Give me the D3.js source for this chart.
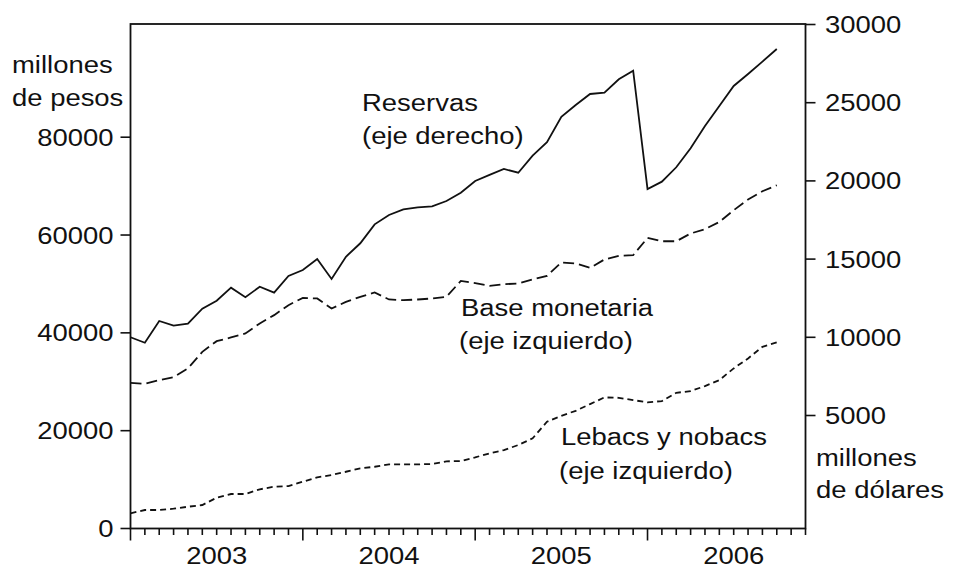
<!DOCTYPE html>
<html>
<head>
	<meta charset="utf-8">
	<title></title>
	<script src="https://d3js.org/d3.v7.min.js"></script>
	<style>
	  body { margin: 0; background: #fff; }
	  text { font-family: "Liberation Sans", Arial, sans-serif; font-size: 24.5px; fill: #111; }
	</style>
</head>
<body>
	<div id="my_dataviz"></div>
	<script>
	// monthly data, Jan 2003 .. Oct 2006
	var months = d3.range(46)   // month index from Jan 2003

	// Reservas (millones de dolares, eje derecho)
	var reservas = [9970, 9620, 11010, 10710, 10840, 11800, 12310, 13140, 12530, 13200, 12820, 13890,
	                14270, 14975, 13700, 15120, 15980, 17190, 17790, 18150, 18280, 18340, 18680, 19210,
	                19960, 20350, 20730, 20490, 21580, 22440, 24070, 24820, 25525, 25610, 26465, 27015,
	                19450, 19920, 20840, 22050, 23480, 24760, 26040, 26800, 27590, 28400]

	// Base monetaria (millones de pesos, eje izquierdo)
	var baseMonetaria = [29680, 29480, 30240, 30850, 32630, 36020, 38200, 38960, 39780, 41820, 43520, 45560,
	                     47050, 46930, 44880, 46230, 47260, 48150, 46720, 46580, 46720, 46930, 47260, 50520,
	                     50050, 49500, 49850, 49990, 50810, 51550, 54280, 54080, 53180, 54900, 55630, 55770,
	                     59310, 58630, 58630, 60210, 61090, 62580, 64970, 67150, 68850, 70070]

	// Lebacs y nobacs (millones de pesos, eje izquierdo)
	var lebacs = [3000, 3680, 3680, 3940, 4350, 4700, 6190, 6950, 6950, 7910, 8440, 8580,
	              9460, 10360, 10830, 11500, 12200, 12520, 13010, 13010, 13010, 13080, 13630, 13690,
	              14440, 15260, 15940, 16960, 18330, 21720, 22940, 23960, 25330, 26700, 26620, 26150,
	              25680, 25950, 27640, 27990, 29010, 30240, 32630, 34670, 37040, 37940]

	var years = ["2003", "2004", "2005", "2006"]
	var leftTicks = [0, 20000, 40000, 60000, 80000]
	var rightTicks = [5000, 10000, 15000, 20000, 25000, 30000]

	var W = 953, H = 569
	var sx = 1.12   // the original lettering is a bit wide

	var svg = d3.select("#my_dataviz")
	  .append("svg")
	    .attr("width", W)
	    .attr("height", H)

	// scales
	var x = d3.scaleLinear().domain([0, 47]).range([130.5, 805.5])
	var yL = d3.scaleLinear().domain([0, 80000]).range([528, 136.7])
	var yR = d3.scaleLinear().domain([5000, 30000]).range([415, 24])

	function addText(px, py, str, anchor) {
	  svg.append("text")
	    .attr("transform", "translate(" + px + "," + py + ") scale(" + sx + ",1)")
	    .attr("text-anchor", anchor || "start")
	    .text(str)
	}

	// left axis
	var gl = svg.append("g")
	  .attr("transform", "translate(130.5,0)")
	  .call(d3.axisLeft(yL).tickValues(leftTicks).tickSize(10).tickFormat(d3.format("d")))
	gl.select(".domain").remove()
	gl.selectAll(".tick line").attr("stroke", "#111").attr("stroke-width", 1.6)
	gl.selectAll(".tick text")
	  .attr("x", null).attr("dy", null)
	  .attr("transform", "translate(-17,8.5) scale(" + sx + ",1)")
	  .attr("text-anchor", "end")
	  .style("font-size", "24.5px")

	// right axis
	var gr = svg.append("g")
	  .attr("transform", "translate(805.5,0)")
	  .call(d3.axisRight(yR).tickValues(rightTicks).tickSize(10).tickFormat(d3.format("d")))
	gr.select(".domain").remove()
	gr.selectAll(".tick line").attr("stroke", "#111").attr("stroke-width", 1.6)
	gr.selectAll(".tick text")
	  .attr("x", null).attr("dy", null)
	  .attr("transform", "translate(19.5,8.5) scale(" + sx + ",1)")
	  .attr("text-anchor", "start")
	  .style("font-size", "24.5px")

	// bottom axis: minor ticks every month, longer ones at each year
	var gb = svg.append("g")
	  .attr("transform", "translate(0,528.5)")
	gb.selectAll("line")
	  .data(d3.range(48))
	  .enter()
	  .append("line")
	    .attr("x1", function (d) { return x(d) })
	    .attr("x2", function (d) { return x(d) })
	    .attr("y1", 0)
	    .attr("y2", function (d) { return d % 12 == 0 ? 12 : 6.5 })
	    .attr("stroke", "#111")
	    .attr("stroke-width", 1.6)
	years.forEach(function (yr, i) {
	  addText(x(i * 12 + 6), 563.5, yr, "middle")
	})

	// frame
	svg.append("rect")
	  .attr("x", 130.5).attr("y", 24)
	  .attr("width", 675).attr("height", 504.5)
	  .attr("fill", "none")
	  .attr("stroke", "#111")
	  .attr("stroke-width", 1.8)

	// lines
	var lineR = d3.line().x(function (d, i) { return x(i) }).y(function (d) { return yR(d) })
	var lineL = d3.line().x(function (d, i) { return x(i) }).y(function (d) { return yL(d) })

	svg.append("path")
	  .datum(reservas)
	  .attr("d", lineR)
	  .attr("fill", "none")
	  .attr("stroke", "#111")
	  .attr("stroke-width", 1.8)

	svg.append("path")
	  .datum(baseMonetaria)
	  .attr("d", lineL)
	  .attr("fill", "none")
	  .attr("stroke", "#111")
	  .attr("stroke-width", 1.8)
	  .attr("stroke-dasharray", "11,5")

	svg.append("path")
	  .datum(lebacs)
	  .attr("d", lineL)
	  .attr("fill", "none")
	  .attr("stroke", "#111")
	  .attr("stroke-width", 1.8)
	  .attr("stroke-dasharray", "6,4")

	// axis titles
	addText(12, 73, "millones")
	addText(12, 106, "de pesos")
	addText(816, 466, "millones")
	addText(816, 498, "de dólares")

	// series labels
	addText(362, 111, "Reservas")
	addText(362, 144, "(eje derecho)")
	addText(461, 316, "Base monetaria")
	addText(459, 349, "(eje izquierdo)")
	addText(561, 445, "Lebacs y nobacs")
	addText(559, 479, "(eje izquierdo)")
	</script>
</body>
</html>
